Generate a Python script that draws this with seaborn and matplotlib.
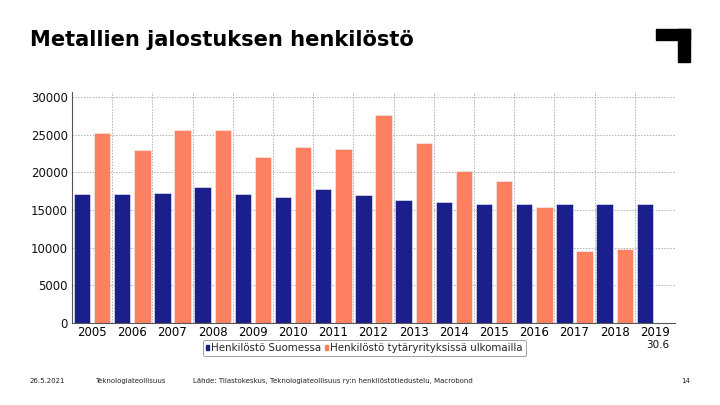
import pandas as pd
import matplotlib.pyplot as plt
import seaborn as sns

# 数据
years = ['2005', '2006', '2007', '2008', '2009', '2010', '2011', '2012',
         '2013', '2014', '2015', '2016', '2017', '2018', '2019']
suomessa = [17100, 17100, 17300, 18100, 17100, 16700, 17800, 16950,
            16300, 16100, 15800, 15800, 15800, 15800, 15800]
ulkomailla = [25250, 22950, 25650, 25600, 22000, 23400, 23100, 27650,
              23900, 20200, 18900, 15450, 9600, 9800, None]

label_fi = 'Henkilöstö Suomessa'
label_abroad = 'Henkilöstö tytäryrityksissä ulkomailla'

rows = []
for y, a, b in zip(years, suomessa, ulkomailla):
    rows.append({'vuosi': y, 'sarja': label_fi, 'arvo': a})
    if b is not None:
        rows.append({'vuosi': y, 'sarja': label_abroad, 'arvo': b})
df = pd.DataFrame(rows)

sns.set_style('white')
plt.rcParams['font.family'] = ['DejaVu Sans']

fig = plt.figure(figsize=(7.2, 4.05), dpi=100)
ax = fig.add_axes([0.1, 0.2025, 0.8375, 0.5705])

sns.barplot(data=df, x='vuosi', y='arvo', hue='sarja', order=years,
            hue_order=[label_fi, label_abroad],
            palette=['#1a1f8c', '#fd8060'], width=1.0, gap=0.18,
            errorbar=None, saturation=1, ax=ax, legend=False,
            edgecolor='#f4f4f4', linewidth=0.4)

ax.set_xlim(-0.5, len(years) - 0.5)
ax.set_ylim(0, 30660)
ax.set_yticks(range(0, 30001, 5000))
ax.set_xticks([i + 0.5 for i in range(len(years) - 1)], minor=True)
ax.grid(True, axis='y', which='major', linestyle=(0, (1.5, 1.5)), color='#b0b0b0', linewidth=0.7)
ax.grid(True, axis='x', which='minor', linestyle=(0, (1.5, 1.5)), color='#b0b0b0', linewidth=0.7)
ax.grid(False, axis='x', which='major')
ax.set_axisbelow(True)
ax.tick_params(axis='x', which='minor', length=0)
ax.tick_params(axis='both', which='major', length=0, labelsize=8.5, colors='#111111', pad=3)
ax.tick_params(axis='x', which='major', colors='black', pad=2)
ax.set_xlabel('')
ax.set_ylabel('')
for s in ['top', 'right']:
    ax.spines[s].set_visible(False)
for s in ['left', 'bottom']:
    ax.spines[s].set_color('#555555')
    ax.spines[s].set_linewidth(0.8)

# 图例
handles = [plt.Rectangle((0, 0), 1, 1, color='#1a1f8c'),
           plt.Rectangle((0, 0), 1, 1, color='#fd8060')]
leg = fig.legend(handles, [label_fi, label_abroad], loc='center',
                 bbox_to_anchor=(0.506, 0.141), ncol=2, fontsize=7.4,
                 handlelength=0.35, handleheight=0.35, handletextpad=0.2,
                 columnspacing=0.3, borderpad=0.3, frameon=True, fancybox=True)
leg.get_frame().set_edgecolor('#888888')
leg.get_frame().set_linewidth(0.7)

fig.text(0.913, 0.148, '30.6', fontsize=7.5, ha='center', va='center', color='#111111')

# 标题
fig.text(0.042, 0.9, 'Metallien jalostuksen henkilöstö', fontsize=15.1,
         fontweight='bold', ha='left', va='center', color='black')

# 角标
fig.patches.append(plt.Rectangle((656 / 720, 1 - 40 / 405), 34 / 720, 11 / 405,
                                 transform=fig.transFigure, color='black'))
fig.patches.append(plt.Rectangle((678 / 720, 1 - 62 / 405), 12 / 720, 33 / 405,
                                 transform=fig.transFigure, color='black'))

# 页脚
fy = 1 - 381 / 405
fig.text(30 / 720, fy, '26.5.2021', fontsize=5, va='center', color='#222222')
fig.text(95 / 720, fy, 'Teknologiateollisuus', fontsize=5, va='center', color='#222222')
fig.text(193 / 720, fy, 'Lähde: Tilastokeskus, Teknologiateollisuus ry:n henkilöstötiedustelu, Macrobond',
         fontsize=5, va='center', color='#222222')
fig.text(690 / 720, fy, '14', fontsize=5, va='center', ha='right', color='#222222')

fig.savefig('out.png', dpi=100)
